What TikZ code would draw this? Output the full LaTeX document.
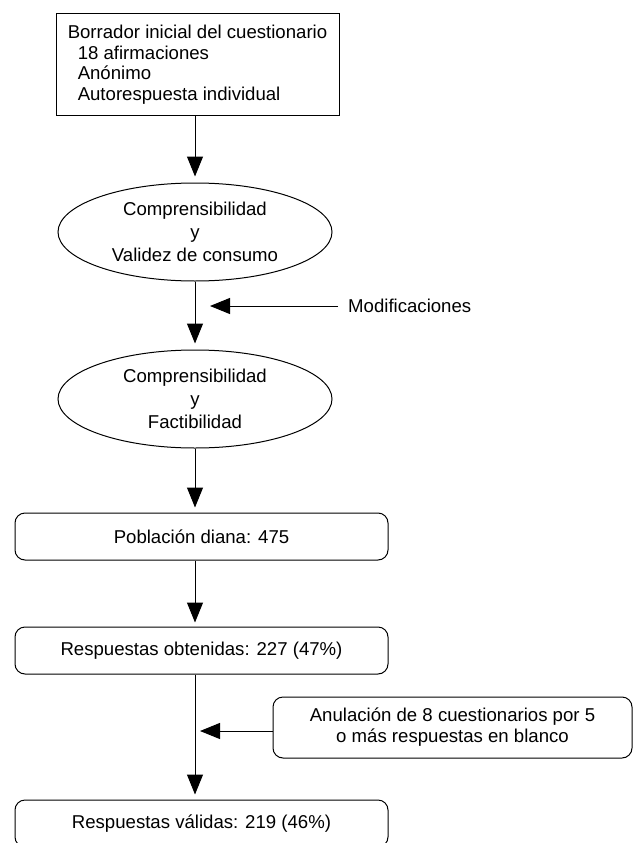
\documentclass[tikz,border=0pt]{standalone}
\usepackage{fontspec}
\setmainfont{Liberation Sans}
\usetikzlibrary{arrows.meta,shapes.geometric}
\begin{document}
\begin{tikzpicture}[x=1pt,y=-1pt,
 every node/.style={font=\fontsize{18.6}{20.5}\selectfont},
 arr/.style={draw, line width=1pt, -{Triangle[length=20pt,width=16pt]}},
 sq/.style={draw, line width=1pt, minimum width=283pt, minimum height=101pt, inner sep=0pt, align=left},
 ell/.style={draw, ellipse, line width=1pt, minimum width=274pt, minimum height=98pt, inner sep=0pt, align=center, font=\fontsize{18.6}{23}\selectfont},
 rbox/.style={draw, rounded corners=10pt, line width=1pt, minimum width=373pt, minimum height=47pt, inner sep=0pt, align=center}]
\clip (0,0) rectangle (635,843);
\node[sq] (a) at (197.5,64.5) {Borrador inicial del cuestionario\\\hspace*{10pt}18 afirmaciones\\\hspace*{10pt}Anónimo\\\hspace*{10pt}Autorespuesta individual};
\node[ell] (e1) at (195,232) {Comprensibilidad\\y\\Validez de consumo};
\node[ell] (e2) at (195,399) {Comprensibilidad\\y\\Factibilidad};
\node[rbox] (p) at (201.5,536.5) {Población diana: 475};
\node[rbox] (o) at (201.5,650.5) {Respuestas obtenidas: 227 (47\%)};
\node[rbox] (v) at (201.5,823.5) {Respuestas válidas: 219 (46\%)};
\node[rbox, minimum width=359pt, minimum height=61pt, font=\fontsize{18.6}{21}\selectfont] (an) at (452.5,727.5) {Anulación de 8 cuestionarios por 5\\o más respuestas en blanco};
\node[anchor=west, inner sep=0pt] (mod) at (348,306) {Modificaciones};
\coordinate (mtip) at (210,306);
\coordinate (atip) at (200,731);
\draw[arr, shorten >=6pt] (a.south -| e1.center) -- (e1.north);
\draw[arr, shorten >=6pt] (e1.south) -- (e2.north);
\draw[arr, shorten >=5pt] (e2.south) -- (e2.south |- p.north);
\draw[arr, shorten >=4pt] (p.south -| e1.center) -- (e1.center |- o.north);
\draw[arr, shorten >=5pt] (o.south -| e1.center) -- (e1.center |- v.north);
\draw[arr] ([xshift=-10pt]mod.west) -- (mtip);
\draw[arr] (atip -| an.west) -- (atip);
\end{tikzpicture}
\end{document}
